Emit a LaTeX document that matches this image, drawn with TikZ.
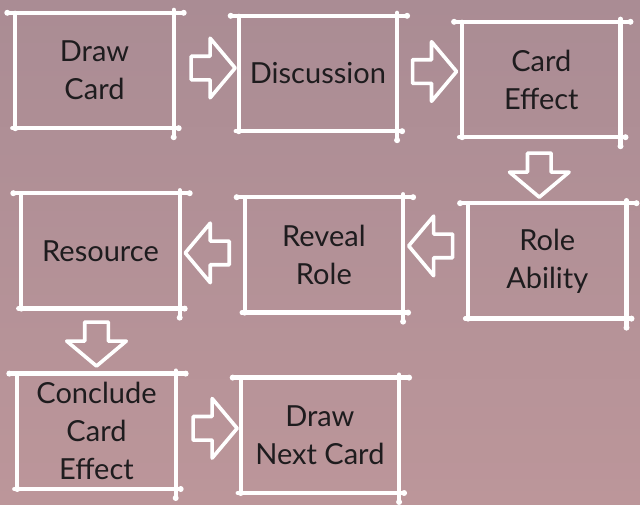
\documentclass[tikz,border=0pt]{standalone}
\usepackage{fontspec}
\setmainfont{Lato}
\usetikzlibrary{positioning,calc,shapes.arrows}

\definecolor{bgtop}{HTML}{AA8C94}
\definecolor{bgbot}{HTML}{BC969A}
\definecolor{inkdark}{HTML}{1E1C1E}

\tikzset{
  card/.style={rectangle, minimum width=158pt, minimum height=115pt,
    inner sep=2pt, align=center, text=inkdark,
    font=\fontsize{29}{38}\selectfont},
  sketch/.style={white, line width=4.3pt, line cap=round},
  blob/.style={white, fill=white},
  flowarrow/.style={single arrow, draw=white, line width=3.6pt, line join=round,
    minimum height=44pt, inner sep=0pt, text height=20pt, text depth=0pt,
    single arrow head extend=18pt, single arrow tip angle=100}
}

\begin{document}
\begin{tikzpicture}[x=1pt,y=-1pt,node distance=65pt]
    % background
    \fill[top color=bgtop, bottom color=bgbot] (0,0) rectangle (640,504);
    \useasboundingbox (0,0) rectangle (640,504);

    % steps
    \node[card] (draw) at (94.5,70.5) {Draw\\Card};
    \node[card] (disc) [right=of draw, yshift=-3pt] {Discussion};
    \node[card] (eff) [right=of disc, yshift=-6pt] {Card\\Effect};
    \node[card] (res) [below=of draw, xshift=6pt] {Resource};
    \node[card] (rev) [right=of res, yshift=-4pt] {Reveal\\Role};
    \node[card] (abil) [right=of rev, yshift=-6pt] {Role\\Ability};
    \node[card] (concl) [below=of res, xshift=-4pt] {Conclude\\Card\\Effect};
    \node[card] (next) [right=of concl, yshift=-4pt] {Draw\\Next Card};

    % hand drawn frames
    \foreach \n in {draw,disc,eff,res,rev,abil,concl,next}{
      \draw[sketch] ([xshift=-8pt]\n.north west) -- ([xshift=10pt]\n.north east);
      \draw[sketch] ([yshift=3pt]\n.north east) -- ([yshift=-9pt]\n.south east);
      \draw[sketch] ([xshift=-3pt]\n.south west) -- ([xshift=5pt]\n.south east);
      \draw[sketch] (\n.north west) -- (\n.south west);
      \fill[blob] ([xshift=-8pt]\n.north west) circle (3pt)
        ([xshift=10pt]\n.north east) circle (3pt)
        (\n.south west) circle (3pt)
        ([xshift=5pt]\n.south east) circle (3pt)
        ([yshift=-9pt]\n.south east) circle (3pt);
    }

    % flow
    \node[flowarrow] (a1) at ($(draw.east)!0.5!(disc.west)+(2,-4)$) {};
    \node[flowarrow] (a2) at ($(disc.east)!0.5!(eff.west)+(0,-5)$) {};
    \node[flowarrow, rotate=-90] (a3) at ($(eff.south)!0.5!(abil.north)+(-5,0)$) {};
    \node[flowarrow, rotate=180] (a4) at ($(abil.west)!0.5!(rev.east)+(0,-12)$) {};
    \node[flowarrow, rotate=180] (a5) at ($(rev.west)!0.5!(res.east)+(0,0)$) {};
    \node[flowarrow, rotate=-90] (a6) at ($(res.south)!0.5!(concl.north)+(-2,-2)$) {};
    \node[flowarrow] (a7) at ($(concl.east)!0.5!(next.west)+(2,-5)$) {};
\end{tikzpicture}
\end{document}
